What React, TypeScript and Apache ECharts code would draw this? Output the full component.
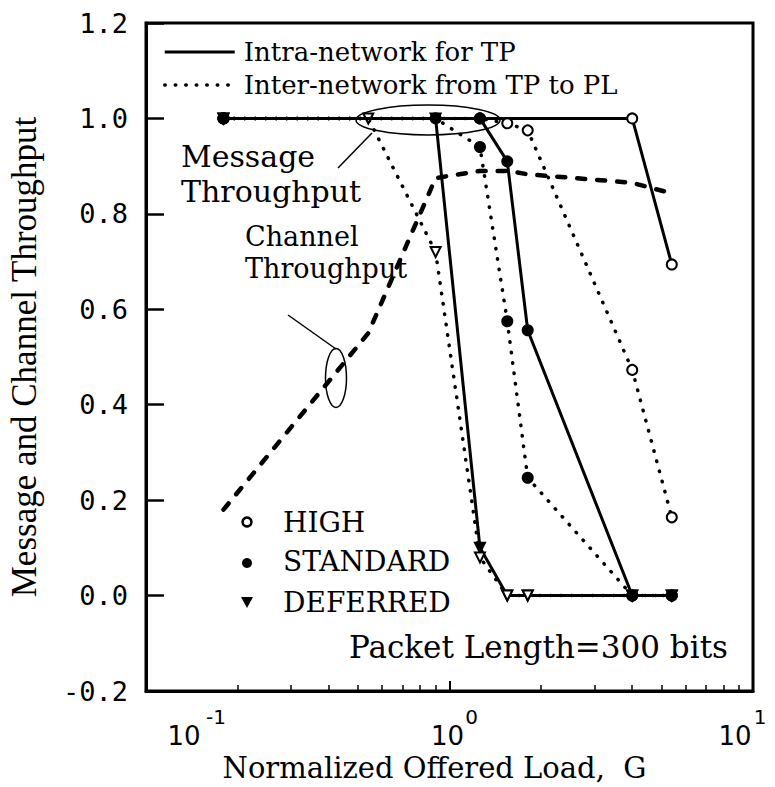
import React, { useEffect, useRef } from "react";
import * as echarts from "echarts";

// Normalized offered load G at which the curves were sampled
const loads = [0.18, 0.54, 0.9, 1.26, 1.55, 1.81, 4.0, 5.4];
// Channel throughput (dashed)
const channelThroughput = [0.18, 0.55, 0.875, 0.89, 0.89, 0.883, 0.865, 0.843];
// Message throughput, intra-network (solid) / inter-network (dotted)
const highIntra = [1, 1, 1, 1, 1, 1, 1, 0.694];
const highInter = [1, 1, 1, 1, 0.99, 0.975, 0.473, 0.164];
const deferredIntra = [1, 1, 1, 0.1, 0, 0, 0, 0];
const deferredInter = [1, 1, 0.72, 0.08, 0, 0, 0, 0];
const standardIntra = [1, 1, 1, 1, 0.91, 0.556, 0, 0];
const standardInter = [1, 1, 1, 0.94, 0.575, 0.247, 0, 0];
// Minor tick positions on the log axis
const xMinorTicks = [0.2, 0.3, 0.4, 0.5, 0.6, 0.7, 0.8, 0.9, 2, 3, 4, 5, 6, 7, 8, 9];

const INTRA = "Intra-network for TP";
const INTER = "Inter-network from TP to PL";

const solidStyle = { color: "#000", width: 3, type: "solid" };
const dottedStyle = { color: "#000", width: 3.5, type: [0.5, 10], cap: "round" };

function msgSeries(
  name: string,
  values: number[],
  symbol: string,
  size: number,
  rotate: number,
  dotted: boolean,
  z: number
) {
  return {
    type: "line",
    name,
    z,
    data: loads.map((x, i) => [x, values[i]]),
    symbol: (_v: any, p: any) => {
      const i = p.dataIndex;
      const show =
        i === 0 || values[i] < 0.999 || (i + 1 < values.length && values[i + 1] < 0.999);
      return show ? symbol : "none";
    },
    symbolSize: size,
    symbolRotate: rotate,
    itemStyle: { color: "#000", borderColor: "#000", borderWidth: 2 },
    lineStyle: dotted ? dottedStyle : solidStyle,
    emphasis: { disabled: true },
  };
}

const serifText = (
  text: string,
  x: number,
  y: number,
  size: number,
  align = "left",
  lineHeight?: number
) => ({
  type: "text",
  z: 50,
  style: {
    text,
    x,
    y,
    fill: "#000",
    fontFamily: "DejaVu Serif",
    fontSize: size,
    lineHeight: lineHeight ?? Math.round(size * 1.15),
    align,
    textAlign: align,
    verticalAlign: "middle",
    textVerticalAlign: "middle",
  },
});

const labelFont = { fontFamily: "DejaVu Sans", color: "#000" };
const exponent = (v: number) => Math.round(Math.log10(v));

const option: any = {
  animation: false,
  backgroundColor: "#fff",
  grid: {
    left: 146,
    right: 22,
    top: 23,
    bottom: 96,
    outerBoundsMode: "none",
    containLabel: false,
    show: true,
    borderColor: "#000",
    borderWidth: 3,
    backgroundColor: "transparent",
  },
  legend: {
    data: [
      { name: INTRA, lineStyle: solidStyle, itemStyle: { opacity: 0 } },
      { name: INTER, lineStyle: dottedStyle, itemStyle: { opacity: 0 } },
    ],
    orient: "vertical",
    left: 158,
    top: 34,
    itemWidth: 70,
    itemHeight: 14,
    itemGap: 7,
    selectedMode: false,
    itemStyle: { opacity: 0 },
    textStyle: { fontFamily: "DejaVu Serif", fontSize: 26, color: "#000", padding: [0, 0, 0, 4] },
  },
  xAxis: [
    {
      // main log axis: frame line, major ticks, mantissa "10" of the labels
      type: "log",
      logBase: 10,
      min: 0.1,
      max: 10,
      axisLine: { show: true, onZero: false, lineStyle: { color: "#000", width: 3 } },
      axisTick: { show: true, inside: true, length: 10, lineStyle: { color: "#000", width: 2 } },
      splitLine: { show: false },
      axisLabel: {
        margin: 33,
        color: "#000",
        formatter: (v: number) => {
          const e = exponent(v);
          if (e === -1) return "{lo|10}";
          if (e === 1) return "{hi|10}";
          return "{mid|10}";
        },
        rich: {
          lo: { ...labelFont, fontSize: 26, lineHeight: 24, padding: [0, 0, 0, 76] },
          mid: { ...labelFont, fontSize: 26, lineHeight: 24, padding: [0, 4, 0, 0] },
          hi: { ...labelFont, fontSize: 26, lineHeight: 24, padding: [0, 36, 0, 0] },
        },
      },
      name: "Normalized Offered Load,  G",
      nameLocation: "middle",
      nameGap: 63,
      nameMoveOverlap: false,
      nameTextStyle: {
        fontFamily: "DejaVu Serif",
        fontSize: 29,
        lineHeight: 28,
        color: "#000",
        padding: [0, 30, 0, 0],
      },
    },
    {
      // companion log axis: minor ticks and the exponent (superscript) of the labels
      type: "log",
      logBase: 10,
      min: 0.1,
      max: 10,
      position: "bottom",
      axisLine: { show: false, onZero: false },
      splitLine: { show: false },
      axisTick: {
        show: true,
        inside: true,
        length: 6,
        customValues: xMinorTicks,
        lineStyle: { color: "#000", width: 1.5 },
      },
      axisLabel: {
        margin: 16,
        color: "#000",
        formatter: (v: number) => {
          const e = exponent(v);
          if (e === -1) return `{lo|${e}}`;
          if (e === 1) return `{hi|${e}}`;
          return `{mid|${e}}`;
        },
        rich: {
          lo: { ...labelFont, fontSize: 20, lineHeight: 20, padding: [0, 0, 0, 140] },
          mid: { ...labelFont, fontSize: 20, lineHeight: 20, padding: [0, 0, 0, 44] },
          hi: { ...labelFont, fontSize: 20, lineHeight: 20, padding: [0, 0, 0, 14] },
        },
      },
    },
  ],
  yAxis: {
    type: "value",
    min: -0.2,
    max: 1.2,
    interval: 0.2,
    axisLine: { show: true, onZero: false, lineStyle: { color: "#000", width: 3 } },
    axisTick: { show: true, inside: true, length: 18, lineStyle: { color: "#000", width: 2.5 } },
    splitLine: { show: false },
    axisLabel: {
      margin: 18,
      color: "#000",
      fontFamily: "DejaVu Sans Mono",
      fontSize: 27,
      formatter: (v: number) => v.toFixed(1),
    },
    name: "Message and Channel Throughput",
    nameLocation: "middle",
    nameRotate: 90,
    nameGap: 104,
    nameTextStyle: { fontFamily: "Liberation Serif", fontSize: 35, color: "#000" },
  },
  series: [
    {
      type: "line",
      name: "Channel Throughput",
      z: 2,
      data: loads.map((x, i) => [x, channelThroughput[i]]),
      symbol: "none",
      lineStyle: { color: "#000", width: 4.5, type: [8, 12], cap: "round" },
      emphasis: { disabled: true },
    },
    msgSeries(INTRA, highIntra, "emptyCircle", 10, 0, false, 3),
    msgSeries(INTER, highInter, "emptyCircle", 10, 0, true, 3),
    msgSeries(INTRA, deferredIntra, "triangle", 10, 180, false, 4),
    msgSeries(INTER, deferredInter, "emptyTriangle", 10, 180, true, 4),
    msgSeries(INTRA, standardIntra, "circle", 10, 0, false, 5),
    msgSeries(INTER, standardInter, "circle", 10, 0, true, 5),
  ],
  graphic: [
    { type: "ellipse", z: 50, shape: { cx: 428, cy: 120, rx: 72, ry: 15 }, style: { fill: "none", stroke: "#000", lineWidth: 1.5 } },
    { type: "line", z: 50, shape: { x1: 372, y1: 133, x2: 338, y2: 168 }, style: { stroke: "#000", lineWidth: 1.5 } },
    { type: "ellipse", z: 50, shape: { cx: 336, cy: 378, rx: 10.5, ry: 29.5 }, style: { fill: "none", stroke: "#000", lineWidth: 1.5 } },
    { type: "line", z: 50, shape: { x1: 336, y1: 349, x2: 288, y2: 315 }, style: { stroke: "#000", lineWidth: 1.5 } },
    serifText("Message\nThroughput", 181, 174, 30, "left", 35.5),
    serifText("Channel\nThroughput", 245, 252, 27, "left", 32),
    { type: "circle", z: 50, shape: { cx: 247, cy: 522, r: 4.5 }, style: { fill: "#fff", stroke: "#000", lineWidth: 2.5 } },
    { type: "circle", z: 50, shape: { cx: 247, cy: 563, r: 5 }, style: { fill: "#000" } },
    { type: "polygon", z: 50, shape: { points: [[241, 597], [253, 597], [247, 608]] }, style: { fill: "#000" } },
    serifText("HIGH", 283, 522, 28),
    serifText("STANDARD", 283, 561, 28),
    serifText("DEFERRED", 283, 602, 28),
    serifText("Packet Length=300 bits", 728, 647, 31, "right"),
  ],
};

export default function App() {
  const ref = useRef<HTMLDivElement>(null);
  useEffect(() => {
    const chart = echarts.init(ref.current!, undefined, { renderer: "svg" });
    chart.setOption(option);
    return () => chart.dispose();
  }, []);
  return (
    <div
      ref={ref}
      style={{ width: 775, height: 787, position: "absolute", left: 0, top: 0, background: "#fff" }}
    />
  );
}
